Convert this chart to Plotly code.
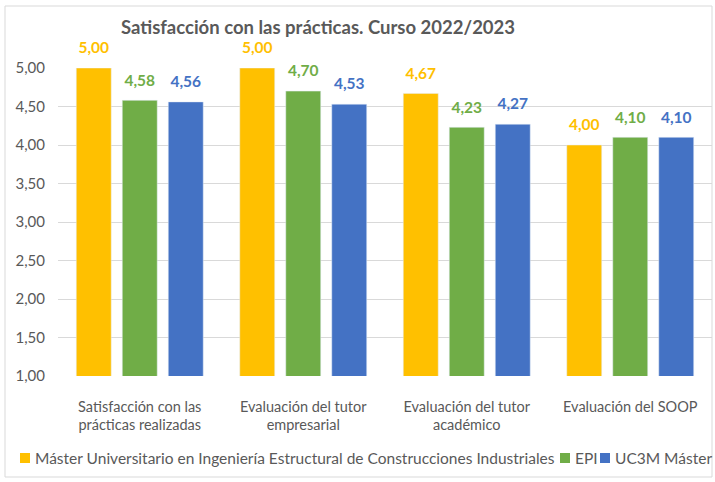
import plotly.graph_objects as go

categories = ["Satisfacción con las<br>prácticas realizadas", "Evaluación del tutor<br>empresarial",
              "Evaluación del tutor<br>académico", "Evaluación del SOOP"]
series_names = ["Máster Universitario en Ingeniería Estructural de Construcciones Industriales", "EPI", "UC3M Máster"]
master_vals = [5.00, 5.00, 4.67, 4.00]
epi_vals = [4.58, 4.70, 4.23, 4.10]
uc3m_vals = [4.56, 4.53, 4.27, 4.10]
colors = ["#FFC000", "#70AD47", "#4472C4"]

W, H = 715, 482
L, R, T, B = 58, 3, 68, 106
pw, ph = W - L - R, H - T - B


def px2x(p):
    return (p - L) / pw


def py2y(p):
    return (H - B - p) / ph


fig = go.Figure()
for name, vals, c in zip(series_names, [master_vals, epi_vals, uc3m_vals], colors):
    fig.add_trace(go.Bar(
        x=categories, y=vals, name=name, marker_color=c,
        text=[f"{v:.2f}".replace(".", ",") for v in vals],
        texttemplate="<span style='font-size:15.5px'><b>%{text}</b></span><br> ",
        textposition="outside", cliponaxis=False,
        textfont=dict(color=c, size=7.5, family="Lato"),
        showlegend=False,
    ))

# chart border
fig.add_shape(type="rect", xref="paper", yref="paper",
              x0=px2x(5), x1=px2x(712), y0=py2y(477), y1=py2y(6),
              line=dict(color="#D9D9D9", width=1), fillcolor="rgba(0,0,0,0)", layer="below")

# legend (swatches + labels)
legend_x = [20, 560, 600]
for name, c, lx in zip(series_names, colors, legend_x):
    fig.add_shape(type="rect", xref="paper", yref="paper",
                  x0=px2x(lx), x1=px2x(lx + 10), y0=py2y(463), y1=py2y(453),
                  line=dict(width=0), fillcolor=c)
    fig.add_annotation(xref="paper", yref="paper", x=px2x(lx + 13), y=py2y(458),
                       xanchor="left", yanchor="middle", showarrow=False, text=name,
                       font=dict(size=15.5, color="#595959", family="Lato"))

fig.update_layout(
    width=W, height=H,
    margin=dict(l=L, r=R, t=T, b=B, autoexpand=False),
    paper_bgcolor="white", plot_bgcolor="white",
    separators=",.",
    font=dict(family="Lato", color="#595959", size=14),
    title=dict(text="<b>Satisfacción con las prácticas. Curso 2022/2023</b>",
               x=318 / W, xanchor="center", xref="container",
               y=1 - 28 / H, yanchor="middle", yref="container",
               font=dict(size=18.5, color="#595959", family="Lato")),
    barmode="group", bargap=0.156, bargroupgap=0.24,
    showlegend=False,
    xaxis=dict(showgrid=False, showline=False, ticks="", automargin=False,
               tickfont=dict(size=14.5, color="#595959"), ticklabelstandoff=20),
    yaxis=dict(range=[1, 5], dtick=0.5, tick0=1, tickformat=".2f", showgrid=True,
               gridcolor="#D9D9D9", zeroline=False, showline=False, automargin=False,
               tickfont=dict(size=15, color="#595959"), ticklabelstandoff=12),
)
fig.write_html("out.html", config={"displayModeBar": False},
               post_script="document.body.style.margin='0';")
